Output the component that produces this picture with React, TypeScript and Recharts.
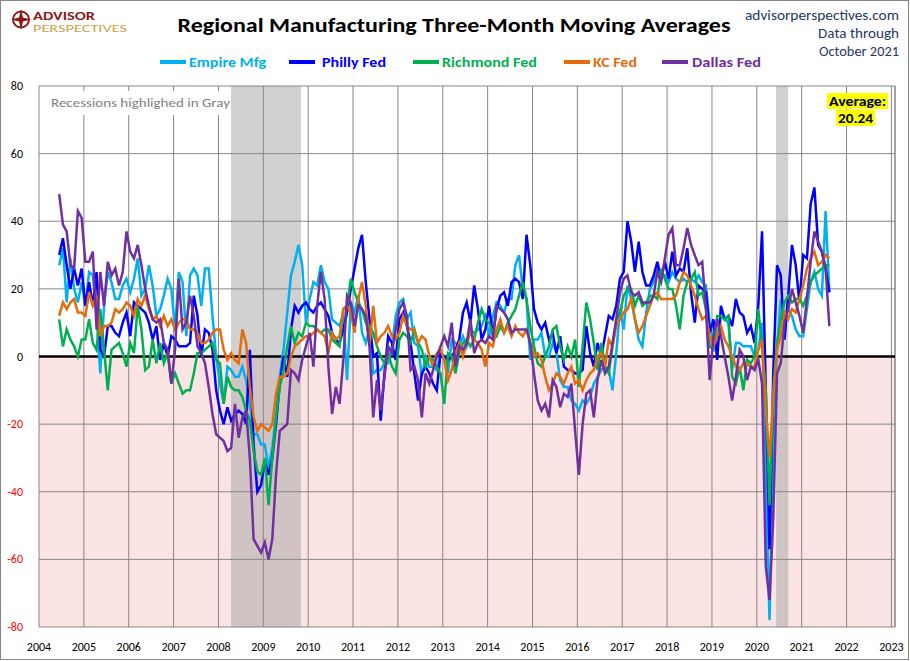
import React from 'react';
import { LineChart, Line, XAxis, YAxis, CartesianGrid, ReferenceArea, ReferenceLine } from 'recharts';

// monthly 3-month moving averages, first reading sits at mid-2004 on the source chart
const startYear = 2004.45;

const empireMfg = [
  27, 32, 16, 29, 20, 16, 22,
  15, 25, 24, 12, -5, 15, 25, 22, 17, 17, 21, 23,
  19, 23, 29, 18, 20, 27, 21, 12, 14, 18, 23, 20,
  8, 25, 22, 6, 24, 26, 24, 15, 26, 26, 12, 0,
  -8, -14, -3, -4, -6, -6, -3, -7, -14, -23, -23, -26,
  -26, -33, -27, -17, -6, 2, 13, 24, 28, 33, 27, 10,
  17, 22, 21, 27, 22, 20, 11, 10, 9, 13, -7, 16,
  13, 18, 7, 4, 8, -5, -4, -4, -2, -2, 3, 12,
  16, 17, 11, 13, 4, 3, -6, 0, -3, -3, -4, 1,
  0, -5, 5, 4, 3, 6, 3, 8, 7, 8, 9, 12,
  6, 12, 16, 15, 13, 17, 17, 27, 30, 20, 17, -1,
  5, 5, 7, 0, 0, 4, 1, -7, -9, -9, -13, -14,
  -16, -13, -14, -12, -8, -6, -4, -3, -4, -10, 1, 14,
  8, 21, 17, 11, 5, 3, 13, 20, 22, 26, 23, 24,
  22, 25, 23, 22, 23, 22, 23, 22, 24, 22, 21, 10,
  4, 6, 12, 11, 10, -4, 4, 4, 3, 3, 3, 0,
  2, 10, -38, -78, -25, 2, 17, 12, 14, 12, 8, 6,
  6, 14, 22, 25, 20, 18, 43, 19,
];

const phillyFed = [
  30, 35, 27, 20, 26, 21, 26,
  15, 22, 15, 25, 2, 0, 9, 9, 7, 6, 10, 13,
  6, 16, 15, 14, 13, 10, 5, 9, -1, 4, 0, 6,
  5, 3, 3, 3, 4, 18, 12, 0, 8, 7, 2, -10,
  -16, -20, -15, -19, -17, -16, -17, -20, 2, -26, -40, -38,
  -31, -35, -30, -20, -8, 0, -6, 8, 15, 13, 15, 16,
  14, 13, 15, 16, 14, 12, 7, 5, 4, 8, 13, 20,
  26, 32, 36, 22, 11, 0, 1, -19, -5, 6, 4, -1,
  11, 13, 9, 4, -5, -13, -5, -3, -5, -8, -10, 1,
  0, -1, 0, 2, 5, 13, 16, 10, 21, 14, 5, 8,
  15, 6, 14, 18, 19, 15, 22, 23, 22, 17, 36, 27,
  14, 10, 8, 10, 5, 7, 1, 6, -3, -4, -4, -5,
  -5, -4, 9, 1, -3, 4, 0, 6, 12, 11, 15, 23,
  25, 40, 34, 25, 34, 25, 21, 21, 24, 28, 23, 28,
  23, 31, 24, 26, 25, 32, 19, 10, 21, 20, 19, 7,
  11, -1, 15, 11, 12, 9, 17, 13, 12, 7, 9, 4,
  15, 37, -10, -57, -5, 27, 24, 5, 18, 33, 27, 16,
  30, 29, 45, 50, 33, 31, 26, 19,
];

const richmondFed = [
  11, 3, 8, 5, 3, 0, 5,
  5, 11, 4, 2, 14, 2, -10, 2, 3, 4, 1, -3,
  4, 1, 15, 8, -4, -3, 5, -2, 4, -2, 1, -8,
  -5, -8, -11, -10, -10, -5, 1, 1, 2, 3, 4, -1,
  -2, -14, -6, -9, -10, -10, -12, -16, -19, -28, -34, -35,
  -30, -44, -30, -18, -9, -4, 3, 9, 4, 7, 6, 10,
  9, 9, 8, 7, 8, 8, 5, 4, 3, 14, 15, 23,
  19, 16, 14, 10, 9, 7, 3, 0, -2, 1, -3, -5,
  5, 7, 6, 4, 8, 4, 2, -3, 0, -1, -3, -5,
  -14, 1, 0, -5, 1, 4, 5, 3, 5, 10, 14, 11,
  10, 7, 6, 9, 7, 10, 12, 14, 18, 22, 17, 9,
  3, -2, -3, 0, 3, 8, 9, 3, -1, 3, 0, 5,
  -9, 3, 16, 11, 4, -4, 4, -3, -5, 3, 11, 13,
  18, 20, 20, 15, 18, 15, 16, 18, 18, 17, 26, 23,
  20, 20, 15, 8, 18, 22, 23, 25, 18, 19, 14, 3,
  2, 12, 12, 11, 12, -6, -8, -3, -10, -1, -2, 0,
  14, 3, -10, -44, -10, 4, 11, 16, 18, 16, 17, 17,
  15, 18, 22, 24, 25, 26, 27, 27,
];

const kcFed = [
  12, 16, 14, 16, 17, 13, 13,
  12, 19, 15, 18, 6, 9, 9, 10, 14, 13, 14, 16,
  15, 12, 17, 15, 18, 14, 11, 12, 9, 12, 9, 11,
  8, 10, 11, 11, 8, 8, 7, 4, 4, 5, 7, 8,
  8, 2, -1, 1, -1, -2, 8, 4, -9, -18, -22, -20,
  -21, -22, -20, -11, -6, -6, -5, 0, 3, 4, 5, 6,
  6, 7, 8, 7, 6, 1, 7, 5, 6, 14, 15, 13,
  7, 17, 22, 15, 3, 15, 4, 6, 7, 9, 6, 5,
  7, 12, 9, 8, 8, 4, 6, 5, 0, -3, 1, 2,
  -1, -7, -4, 1, 4, 0, 4, 7, 5, 4, 2, -3,
  4, 3, 8, 11, 7, 9, 6, 9, 7, 6, 8, 4,
  0, 1, -1, -6, -10, -8, -5, -6, -8, -5, -3, -8,
  -7, -10, -7, -5, -4, 0, 1, -3, 5, 3, 9, 11,
  13, 14, 17, 11, 7, 9, 12, 15, 18, 19, 17, 17,
  17, 17, 18, 22, 25, 24, 21, 18, 14, 11, 12, 6,
  3, 6, 9, 5, 3, 0, -3, -4, -2, -2, -3, -3,
  2, 5, -16, -30, -12, 2, 6, 13, 11, 14, 13, 17,
  21, 26, 29, 31, 27, 28, 30, 29,
];

const dallasFed = [
  48, 39, 37, 27, 26, 43, 41,
  28, 28, 31, 8, 25, 15, 28, 24, 26, 21, 25, 37,
  31, 29, 33, 27, 20, 15, 11, 10, 11, 4, 2, -8,
  2, 23, 8, 10, 18, 12, 3, 1, -2, -9, -17, -23,
  -24, -25, -28, -27, -14, -24, -18, -16, -30, -54, -56, -58,
  -55, -60, -54, -35, -22, -21, -20, -4, -5, -7, -1, 3,
  7, -3, 15, 25, 17, -3, -17, -9, -14, -1, 18, 16,
  9, 15, 14, 12, 3, -18, -7, -16, -6, 3, 1, 8,
  14, 16, 12, -4, -3, -7, -18, -5, -8, -4, 0, 3,
  6, 3, 10, -3, 3, 2, 4, 11, 1, 4, 5, 4,
  6, 5, 15, 14, 13, 11, 7, 8, 8, 8, 8, 4,
  -5, -13, -16, -14, -18, -7, -9, -15, -11, -12, -8, -22,
  -35, -20, -11, -10, -18, -7, -1, -5, -3, 4, 11, 19,
  23, 24, 19, 18, 19, 16, 16, 16, 18, 25, 22, 29,
  36, 38, 27, 27, 32, 38, 33, 30, 27, 28, 14, -7,
  6, 11, 6, 0, -6, -13, -6, 2, 0, -7, -3, -4,
  -1, -8, -62, -72, -48, -5, -2, 10, 14, 20, 16, 12,
  7, 17, 28, 37, 34, 31, 26, 9,
];

const yearTicks = [
  2004, 2005, 2006, 2007, 2008, 2009, 2010, 2011, 2012, 2013,
  2014, 2015, 2016, 2017, 2018, 2019, 2020, 2021, 2022, 2023,
];
const valueTicks = [-80, -60, -40, -20, 0, 20, 40, 60, 80];
const recessions = [
  [2008.28, 2009.84],
  [2020.43, 2020.7],
];
const averageLabel = '20.24';

const xMax = 2023.08;
const FONT = 'Carlito, Calibri, "Liberation Sans Narrow", Lato, "DejaVu Sans", sans-serif';
const NAVY = '#1F3864';
const LOGO_RED = '#8B1A1A';

const series = [
  { key: 'empire', name: 'Empire Mfg', color: '#00B0F0', values: empireMfg },
  { key: 'philly', name: 'Philly Fed', color: '#0000FF', values: phillyFed },
  { key: 'richmond', name: 'Richmond Fed', color: '#00B050', values: richmondFed },
  { key: 'kc', name: 'KC Fed', color: '#E46C0A', values: kcFed },
  { key: 'dallas', name: 'Dallas Fed', color: '#7030A0', values: dallasFed },
];

const data = empireMfg.map((_, i) => {
  const row: Record<string, number> = { x: startYear + i / 12 };
  series.forEach((s) => {
    row[s.key] = s.values[i];
  });
  return row;
});

// legend placement copied from the source layout
const legendLayout = [
  { lineX: 160, textX: 189, w: 77 },
  { lineX: 289, textX: 322, w: 64 },
  { lineX: 413, textX: 442, w: 95 },
  { lineX: 564, textX: 593, w: 44 },
  { lineX: 662, textX: 692, w: 69 },
];

function ValueTick({ x, y, payload }: any) {
  const v = payload.value;
  return (
    <text x={x - 14} y={y + 4} textAnchor="end" fontSize={12} fontFamily={FONT} fill={v < 0 ? '#FF0000' : '#000000'}>
      {v}
    </text>
  );
}

function YearTick({ x, y, payload }: any) {
  return (
    <text x={x} y={y + 22} textAnchor="middle" fontSize={12} fontFamily={FONT} fill="#000000">
      {payload.value}
    </text>
  );
}

function Overlay() {
  return (
    <svg width={910} height={661} style={{ position: 'absolute', left: 0, top: 0, pointerEvents: 'none' }}>
      <rect x={0.5} y={0.5} width={908} height={659} fill="none" stroke="#868686" />
      {/* logo */}
      <circle cx={21} cy={19.5} r={8} fill="none" stroke={LOGO_RED} strokeWidth={2} />
      <polygon points="21,9 23,17.5 31,19.5 23,21.5 21,30 19,21.5 11,19.5 19,17.5" fill={LOGO_RED} />
      <text x={33} y={20.3} fontSize={12} fontWeight="bold" fill={LOGO_RED} fontFamily={FONT} textLength={62} lengthAdjust="spacingAndGlyphs">
        ADVISOR
      </text>
      <text x={33} y={32} fontSize={11} fill="#C9A24A" fontFamily={FONT} textLength={94} lengthAdjust="spacingAndGlyphs">
        PERSPECTIVES
      </text>
      {/* title */}
      <text x={454} y={32} textAnchor="middle" fontSize={21} fontWeight="bold" fill="#000" fontFamily={FONT} textLength={553} lengthAdjust="spacingAndGlyphs">
        Regional Manufacturing Three-Month Moving Averages
      </text>
      <text x={899} y={20} textAnchor="end" fontSize={14} fill={NAVY} fontFamily={FONT} textLength={154} lengthAdjust="spacingAndGlyphs">
        advisorperspectives.com
      </text>
      <text x={899} y={38} textAnchor="end" fontSize={14} fill={NAVY} fontFamily={FONT} textLength={81} lengthAdjust="spacingAndGlyphs">
        Data through
      </text>
      <text x={899} y={56} textAnchor="end" fontSize={14} fill={NAVY} fontFamily={FONT} textLength={80} lengthAdjust="spacingAndGlyphs">
        October 2021
      </text>
      {/* legend */}
      {series.map((s, i) => {
        const l = legendLayout[i];
        return (
          <g key={s.key}>
            <line x1={l.lineX} x2={l.lineX + 26} y1={62} y2={62} stroke={s.color} strokeWidth={4} />
            <text x={l.textX} y={67} fontSize={14} fontWeight="bold" fill={s.color} fontFamily={FONT} textLength={l.w} lengthAdjust="spacingAndGlyphs">
              {s.name}
            </text>
          </g>
        );
      })}
      {/* recession note */}
      <rect x={41} y={91} width={190} height={24} fill="#FFFFFF" />
      <text x={51} y={107} fontSize={13} fill="#7F7F7F" fontFamily={FONT} textLength={179} lengthAdjust="spacingAndGlyphs">
        Recessions highlighed in Gray
      </text>
      {/* average note */}
      <rect x={827} y={93} width={61} height={16} fill="#FFFF00" />
      <text x={857.5} y={106} textAnchor="middle" fontSize={13} fontWeight="bold" fill="#000" fontFamily={FONT} textLength={57} lengthAdjust="spacingAndGlyphs">
        Average:
      </text>
      <rect x={836} y={110} width={39} height={16} fill="#FFFF00" />
      <text x={855.5} y={123} textAnchor="middle" fontSize={13} fontWeight="bold" fill="#000" fontFamily={FONT} textLength={35} lengthAdjust="spacingAndGlyphs">
        {averageLabel}
      </text>
    </svg>
  );
}

export default function App() {
  return (
    <div style={{ position: 'relative', width: 910, height: 661, background: '#FFFFFF' }}>
      <style>{'body{margin:0}'}</style>
      <LineChart width={910} height={661} data={data} margin={{ top: 86, right: 15, bottom: 0, left: 0 }}>
        <XAxis
          dataKey="x"
          type="number"
          domain={[2004, xMax]}
          ticks={yearTicks}
          interval={0}
          height={34}
          axisLine={false}
          tickLine={false}
          tickSize={0}
          tick={<YearTick />}
          allowDataOverflow
        />
        <YAxis
          domain={[-80, 80]}
          ticks={valueTicks}
          interval={0}
          width={39}
          axisLine={false}
          tickLine={false}
          tickSize={0}
          tick={<ValueTick />}
          allowDataOverflow
        />
        <ReferenceArea y1={-80} y2={0} fill="#FDE4E4" fillOpacity={1} stroke="none" zIndex={-300} />
        {recessions.map(([a, b]) => (
          <ReferenceArea key={a} x1={a} x2={b} y1={-80} y2={80} fill="#9E9E9E" fillOpacity={0.47} stroke="none" zIndex={-200} />
        ))}
        <CartesianGrid stroke="#868686" strokeWidth={1} zIndex={-100} />
        <ReferenceLine x={xMax} stroke="#868686" strokeWidth={1} zIndex={-100} />
        <ReferenceLine y={0} stroke="#000000" strokeWidth={2.5} zIndex={350} />
        {series.map((s) => (
          <Line
            key={s.key}
            dataKey={s.key}
            name={s.name}
            type="linear"
            stroke={s.color}
            strokeWidth={2.5}
            dot={false}
            activeDot={false}
            isAnimationActive={false}
          />
        ))}
      </LineChart>
      <Overlay />
    </div>
  );
}
